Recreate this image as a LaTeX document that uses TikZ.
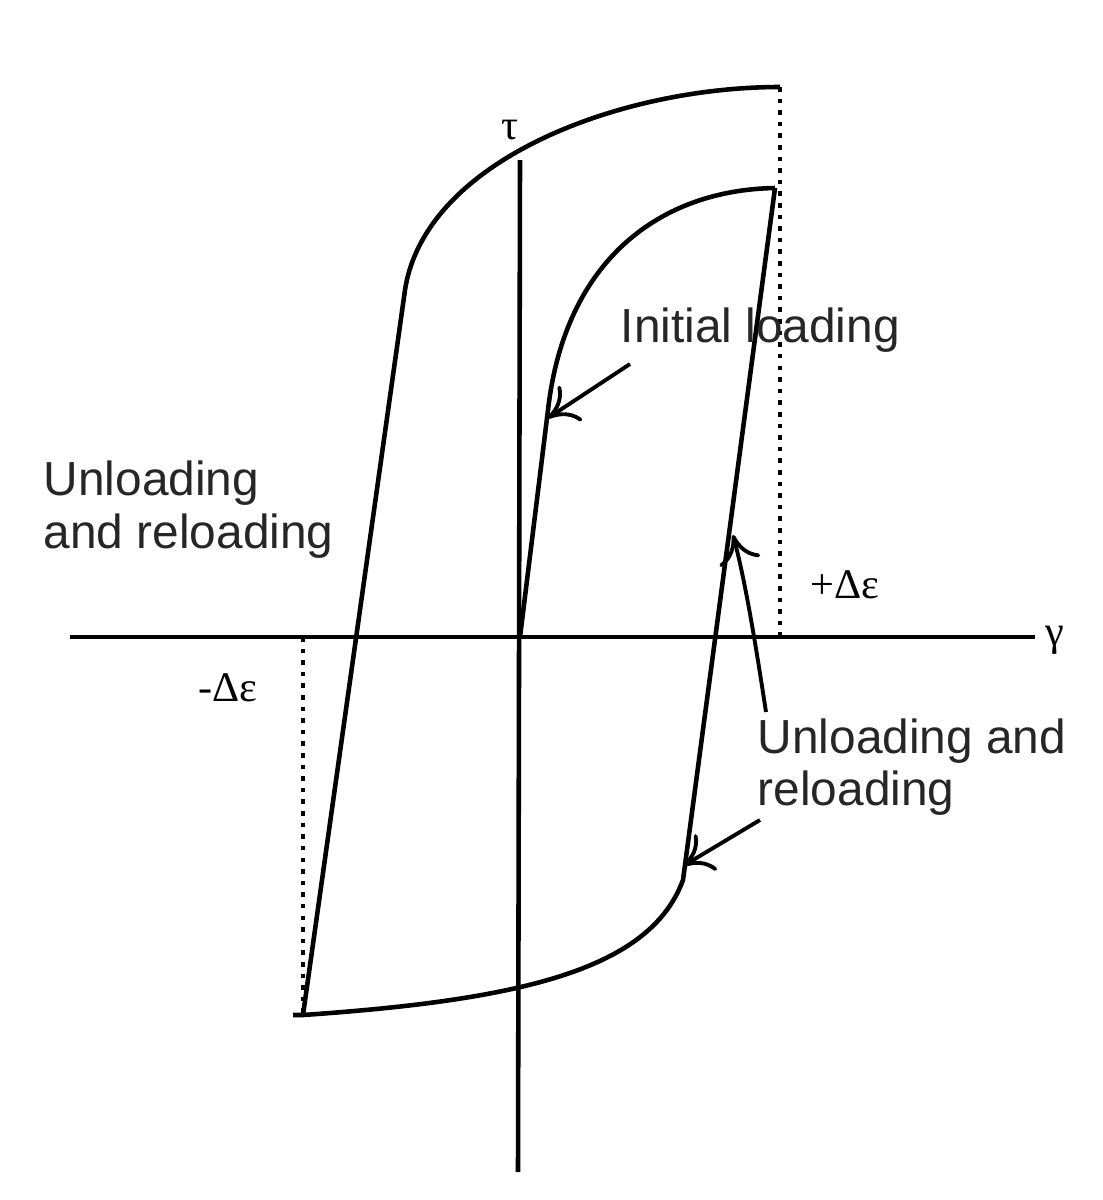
\documentclass[tikz,border=0pt]{standalone}
\usepackage{fontspec}
\usetikzlibrary{arrows.meta}
\setmainfont{Liberation Sans}
\newfontfamily\serifgr{Liberation Serif}
\begin{document}
\begin{tikzpicture}[x=0.01cm,y=-0.01cm,
  curve/.style={line width=1.3pt},
  lbl/.style={font=\fontsize{13.6pt}{15pt}\selectfont, text=black!85, align=left, inner sep=0pt},
  sym/.style={font=\serifgr\fontsize{12pt}{14pt}\selectfont, inner sep=0pt},
  arr/.style={line width=1.1pt,-{To[length=8pt,width=12pt]}}]
\useasboundingbox (0,0) rectangle (1102,1200);
% axes
\coordinate (xl) at (70,637); \coordinate (xr) at (1035,637);
\coordinate (yt) at (520,160); \coordinate (yb) at (518,1172);
\draw[line width=1.3pt] (xl) -- (xr);
\draw[line width=1.3pt] (yt) -- (yb);
\node[sym] (gam) at (1055,640) {γ};
\node[sym] (tau) at (510,130) {τ};
% loop points
\coordinate (O) at (520,637);
\coordinate (A) at (548,410);
\coordinate (P) at (775,188);
\coordinate (B) at (683,880);
\coordinate (N) at (303,1015);
\coordinate (C) at (405,290);
\coordinate (Q) at (780,87);
\draw[curve] (O) -- (A) .. controls (565,260) and (660,190) .. (P);
\draw[curve] (P) -- (B) .. controls (650,970) and (520,1000) .. (N) -- (293,1015);
\draw[curve] (N) -- (C) .. controls (425,160) and (620,87) .. (Q);
% dotted
\coordinate (Qd) at (780,637);
\coordinate (Nd) at (303,637);
\draw[dotted,line width=1.3pt] (Q) -- (Qd);
\draw[dotted,line width=1.3pt] (Nd) -- (N);
% labels
\node[lbl,anchor=west] (il) at (620,330) {Initial loading};
\node[lbl,anchor=west] (ur1) at (43,510) {Unloading\\and reloading};
\node[lbl,anchor=west] (ur2) at (757,767) {Unloading and\\reloading};
\node[sym] (pe) at (845,585) {+Δε};
\node[sym] (me) at (228,688) {-Δε};
% arrows
\coordinate (a1s) at (630,364); \coordinate (a1e) at (548,418);
\draw[arr] (a1s) -- (a1e);
\coordinate (a2s) at (766,712); \coordinate (a2e) at (733,535);
\draw[arr] (a2s) .. controls (755,640) and (745,580) .. (a2e);
\coordinate (a3s) at (760,820); \coordinate (a3e) at (683,866);
\draw[arr] (a3s) -- (a3e);
\end{tikzpicture}
\end{document}
